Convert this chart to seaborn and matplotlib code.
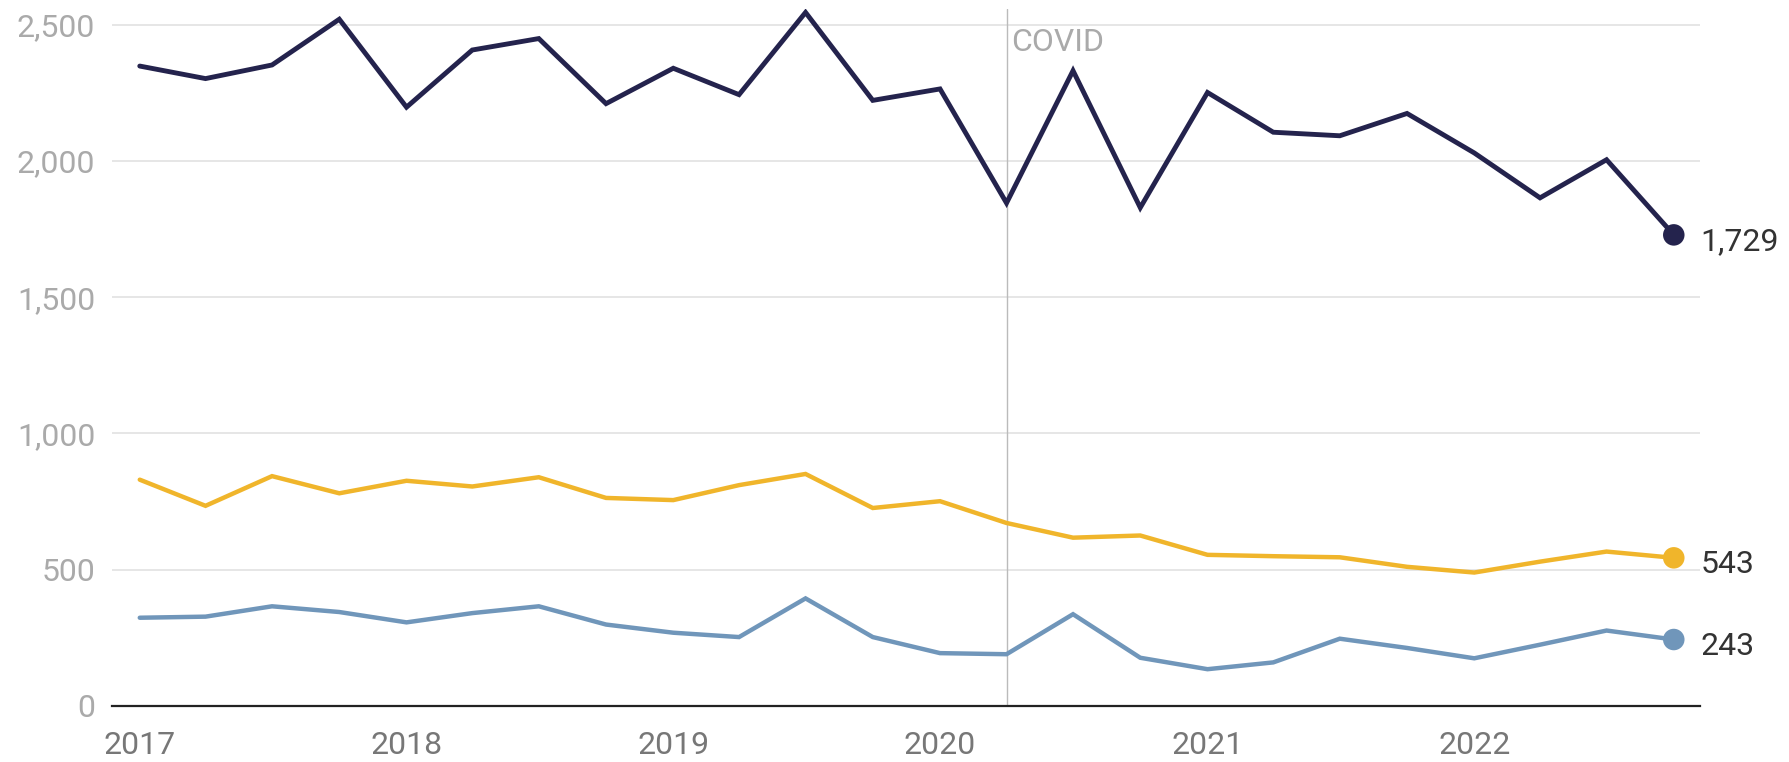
import pandas as pd
import matplotlib.pyplot as plt
import matplotlib.dates as mdates
import matplotlib.ticker as mticker
import seaborn as sns

# quarterly values, 2017 Q1 - 2022 Q4
quarters = pd.date_range('2017-01-01', periods=24, freq='QS')
total = [2349, 2303, 2353, 2521, 2198, 2408, 2450, 2211, 2341, 2244, 2546, 2223,
         2265, 1846, 2332, 1829, 2252, 2106, 2093, 2175, 2030, 1865, 2005, 1729]
middle = [830, 734, 843, 780, 826, 805, 839, 763, 755, 810, 851, 726,
          751, 671, 617, 625, 554, 549, 545, 510, 489, 529, 566, 543]
lower = [323, 327, 365, 344, 306, 340, 365, 298, 268, 252, 394, 252,
         193, 189, 336, 176, 134, 159, 246, 212, 174, 224, 276, 243]

series_names = ['total', 'middle', 'lower']
colors = {'total': '#24234d', 'middle': '#f0b52b', 'lower': '#7096ba'}
widths = {'total': 3.5, 'middle': 3.2, 'lower': 3.2}
covid_date = pd.Timestamp('2020-04-01')

df = pd.DataFrame({'quarter': quarters, 'total': total, 'middle': middle, 'lower': lower})
long_df = df.melt(id_vars='quarter', var_name='series', value_name='value')

sns.set_theme(style='white')
plt.rcParams['font.family'] = ['Roboto', 'DejaVu Sans']

fig = plt.figure(figsize=(17.89, 7.62), dpi=100)
ax = fig.add_axes([0.0626, 0.0739, 0.8877, 0.9148])

sns.lineplot(data=long_df, x='quarter', y='value', hue='series', hue_order=series_names,
             palette=colors, legend=False, ax=ax)
for line, name in zip(ax.lines, series_names):
    line.set_linewidth(widths[name])
    line.set_solid_joinstyle('miter')

last = long_df[long_df['quarter'] == quarters[-1]]
sns.scatterplot(data=last, x='quarter', y='value', hue='series', hue_order=series_names,
                palette=colors, s=240, edgecolor='none', legend=False, ax=ax, zorder=5)

for name in series_names:
    v = df[name].iloc[-1]
    ax.annotate(f'{v:,}', xy=(quarters[-1], v), xytext=(19, -5), textcoords='offset points',
                ha='left', va='center', fontsize=23, color='#333333', annotation_clip=False)

# covid marker
ax.axvline(covid_date, color='#bbbbbb', lw=1.0, zorder=1)
ax.text(covid_date + pd.Timedelta(days=6), 2490, 'COVID', color='#aaaaaa', fontsize=23,
        ha='left', va='top')

ax.set_ylim(0, 2560)
ax.set_xlim(pd.Timestamp('2016-11-24'), pd.Timestamp('2022-11-06'))
ax.set_yticks([0, 500, 1000, 1500, 2000, 2500])
ax.yaxis.set_major_formatter(mticker.FuncFormatter(lambda v, p: f'{int(v):,}'))
ax.xaxis.set_major_locator(mdates.YearLocator())
ax.xaxis.set_major_formatter(mdates.DateFormatter('%Y'))

ax.grid(axis='y', color='#e2e2e2', lw=1.2)
ax.grid(axis='x', visible=False)
for side in ['top', 'right', 'left']:
    ax.spines[side].set_visible(False)
ax.spines['bottom'].set_color('#222222')
ax.spines['bottom'].set_linewidth(1.6)
ax.tick_params(axis='y', length=0, pad=12, labelsize=23, labelcolor='#aaaaaa')
ax.tick_params(axis='x', length=0, pad=18, labelsize=23, labelcolor='#777777')
ax.set_xlabel('')
ax.set_ylabel('')

fig.savefig('out.png', dpi=100)
